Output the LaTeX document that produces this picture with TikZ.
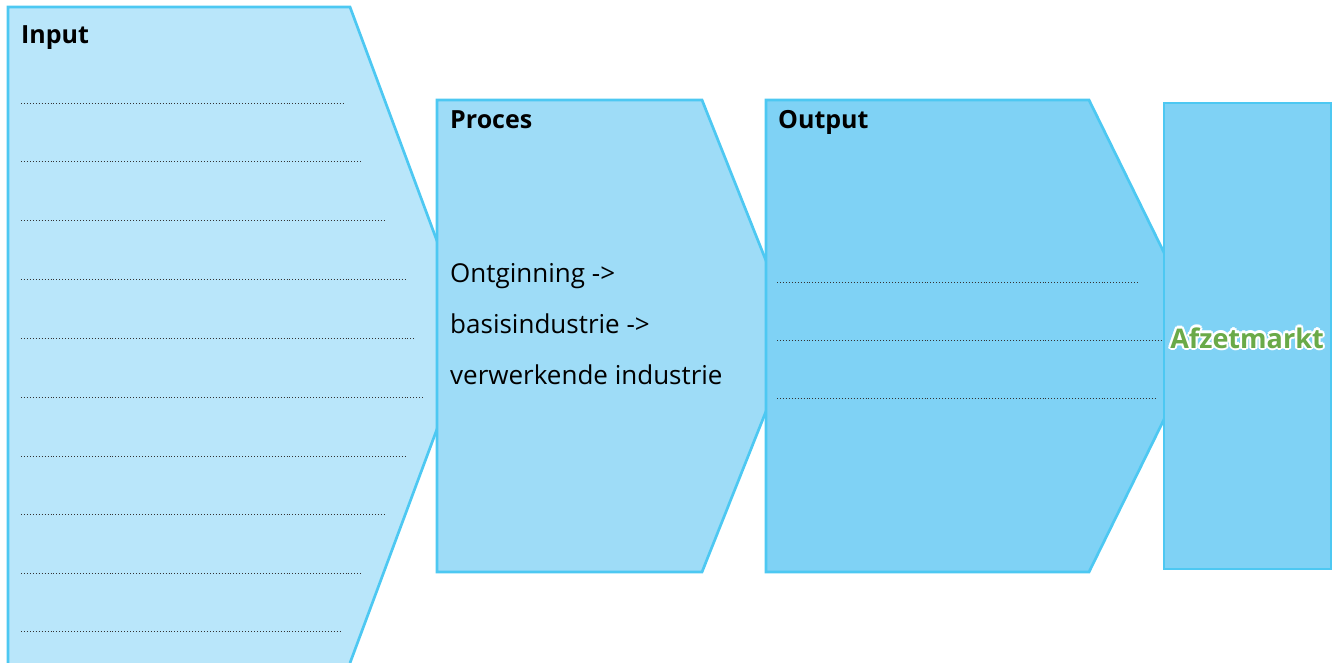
\documentclass[tikz,border=0pt]{standalone}
\usepackage{fontspec}
\setmainfont{Open Sans}
\usetikzlibrary{calc,positioning}
\definecolor{cborder}{RGB}{77, 200, 242}
\definecolor{cinputlight}{RGB}{185, 230, 250}
\definecolor{cproceslight}{RGB}{158, 220, 247}
\definecolor{coutputlight}{RGB}{127, 210, 245}
\definecolor{cgreen}{RGB}{106, 170, 72}
\tikzset{
	stage/.style={%
			draw=cborder,%
			line width=2.7pt,%
			line join=miter},%
	writeline/.style={%
			draw=black!80,%
			line width=0.75pt,%
			dash pattern=on 0.75pt off 2.2pt},%
	title/.style={%
			anchor=base west,%
			inner sep=0,%
			font={\fontsize{25}{25}\selectfont\bfseries}},%
	bodytext/.style={%
			anchor=base west,%
			inner sep=0,%
			font={\fontsize{26}{26}\selectfont}},%
	market/.style={%
			inner sep=0,%
			font={\fontsize{27}{27}\selectfont\bfseries}},%
}

\begin{document}
\begin{tikzpicture}[x=1pt, y=-1pt]%
	\useasboundingbox (0,0) rectangle (1335,663);

	% input
	\fill[cinputlight] (8,7) -- (350,7) -- (472,335) -- (350,663) -- (8,663) -- cycle;
	\draw[stage] (8,663) -- (8,7) -- (350,7) -- (472,335) -- (350,663);
	\node[title] (input) at (21,44) {Input};
	\foreach \y/\len in {103/344, 161/363, 220/384, 279/405, 338/414, 397/424, 456/405, 514/384, 573/363, 631/342} {
		\draw[writeline] (21,\y) -- (\len,\y);
	}

	% proces
	\draw[stage, fill=cproceslight] (437,100) -- (702,100) -- (796,336) -- (702,572) -- (437,572) -- cycle;
	\node[title] (proces) at (450,129) {Proces};
	\node[bodytext] (step1) at (450,282) {Ontginning ->};
	\node[bodytext] (step2) at (450,333) {basisindustrie ->};
	\node[bodytext] (step3) at (450,384) {verwerkende industrie};

	% output
	\draw[stage, fill=coutputlight] (766,100) -- (1089,100) -- (1205,336) -- (1089,572) -- (766,572) -- cycle;
	\node[title] (output) at (778,129) {Output};
	\foreach \y/\len in {282/1139, 340/1175, 398/1156} {
		\draw[writeline] (777,\y) -- (\len,\y);
	}

	% afzetmarkt
	\draw[stage, fill=coutputlight] (1164,103) rectangle (1331,569);
	\foreach \a in {0,45,...,315} {
		\node[market, white] at ($(1247,338)+(\a:2.2)$) {Afzetmarkt};
	}
	\node[market, text=cgreen] (market) at (1247,338) {Afzetmarkt};
\end{tikzpicture}
\end{document}
